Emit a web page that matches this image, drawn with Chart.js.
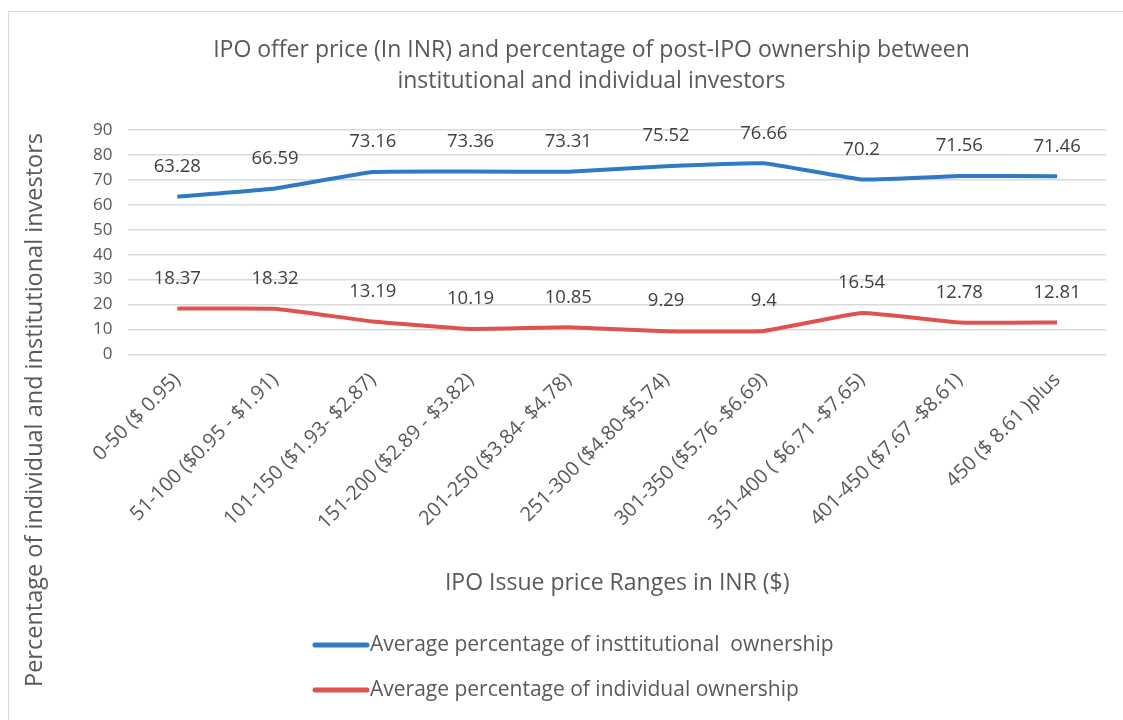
<!DOCTYPE html>
<html>
<head>
<meta charset="utf-8">
<script src="https://cdn.jsdelivr.net/npm/chart.js@4.4.1/dist/chart.umd.min.js"></script>
<style>
  body { margin: 0; background: #fff; overflow: hidden; }
  #box { position: absolute; left: 8px; top: 11px; width: 1120px; height: 715px; border: 1px solid #d9d9d9; }
  canvas { display: block; }
</style>
</head>
<body>
<div id="box"><canvas id="chartIPO" width="1115" height="709"></canvas></div>
<script>
// Categorias (faixas de preço) e séries
const categories = ['0-50 ($ 0.95)', '51-100 ($0.95 - $1.91)', '101-150 ($1.93- $2.87)', '151-200 ($2.89 - $3.82)',
  '201-250 ($3.84- $4.78)', '251-300 ($4.80-$5.74)', '301-350 ($5.76 -$6.69)', '351-400 ( $6.71 -$7.65)',
  '401-450 ($7.67 -$8.61)', '450 ($ 8.61 )plus'];
const institutional = [63.28, 66.59, 73.16, 73.36, 73.31, 75.52, 76.66, 70.2, 71.56, 71.46];
const individual = [18.37, 18.32, 13.19, 10.19, 10.85, 9.29, 9.4, 16.54, 12.78, 12.81];
const yTicks = [0, 10, 20, 30, 40, 50, 60, 70, 80, 90];

const FONT = "'Open Sans', 'Liberation Sans', sans-serif";
const GREY = '#595959';

// rótulos de valores acima dos pontos
const valueLabels = {
  id: 'valueLabels',
  afterDatasetsDraw(chart) {
    const ctx = chart.ctx;
    ctx.save();
    ctx.font = '18.5px ' + FONT;
    ctx.fillStyle = '#404040';
    ctx.textAlign = 'center';
    ctx.textBaseline = 'middle';
    chart.data.datasets.forEach((ds, i) => {
      chart.getDatasetMeta(i).data.forEach((pt, j) => {
        ctx.fillText(String(ds.data[j]), pt.x, pt.y - 30);
      });
    });
    ctx.restore();
  }
};

// título do eixo Y centrado no gráfico + legenda em duas linhas
const extras = {
  id: 'extras',
  afterDraw(chart) {
    const ctx = chart.ctx;
    ctx.save();
    ctx.fillStyle = GREY;
    ctx.font = '23.5px ' + FONT;
    ctx.translate(26, 398);
    ctx.rotate(-Math.PI / 2);
    ctx.textAlign = 'center';
    ctx.textBaseline = 'middle';
    ctx.fillText('Percentage of individual and institutional investors', 0, 0);
    ctx.restore();

    ctx.save();
    ctx.font = '21px ' + FONT;
    ctx.textBaseline = 'middle';
    chart.data.datasets.forEach((ds, i) => {
      const y = 633 + i * 45;
      ctx.strokeStyle = ds.borderColor;
      ctx.lineWidth = 5;
      ctx.lineCap = 'round';
      ctx.beginPath();
      ctx.moveTo(306, y);
      ctx.lineTo(358, y);
      ctx.stroke();
      ctx.fillStyle = GREY;
      ctx.fillText(ds.label, 361, y);
    });
    ctx.restore();
  }
};

new Chart(document.getElementById('chartIPO'), {
  type: 'line',
  data: {
    labels: categories,
    datasets: [{
      label: 'Average percentage of insttitutional  ownership',
      data: institutional,
      borderColor: '#2e7bc4',
      borderWidth: 4,
      pointRadius: 0,
      tension: 0.1
    }, {
      label: 'Average percentage of individual ownership',
      data: individual,
      borderColor: '#e0524f',
      borderWidth: 4,
      pointRadius: 0,
      tension: 0.1
    }]
  },
  options: {
    responsive: false,
    animation: false,
    layout: { padding: { left: 68, right: 18, bottom: 124 } },
    plugins: {
      legend: { display: false },
      tooltip: { enabled: false },
      title: {
        display: true,
        text: ['IPO offer price (In INR) and percentage of post-IPO ownership between', 'institutional and individual investors'],
        color: GREY,
        font: { family: FONT, size: 23, weight: 'normal', lineHeight: 1.35 },
        padding: { top: 23, bottom: 33 }
      }
    },
    scales: {
      x: {
        offset: true,
        grid: { display: false },
        border: { display: false },
        ticks: { color: GREY, font: { family: FONT, size: 20 }, minRotation: 45, maxRotation: 45, padding: 6 },
        title: { display: true, text: 'IPO Issue price Ranges in INR ($)', color: GREY, font: { family: FONT, size: 23 }, padding: { top: 29, bottom: 0 } }
      },
      y: {
        min: 0, max: 90,
        afterBuildTicks(axis) { axis.ticks = yTicks.map(v => ({ value: v })); },
        grid: { color: '#d9d9d9', lineWidth: 1.5, drawTicks: false },
        border: { display: false },
        ticks: { color: GREY, font: { family: FONT, size: 17 }, padding: 16 }
      }
    }
  },
  plugins: [valueLabels, extras]
});
</script>
</body>
</html>
